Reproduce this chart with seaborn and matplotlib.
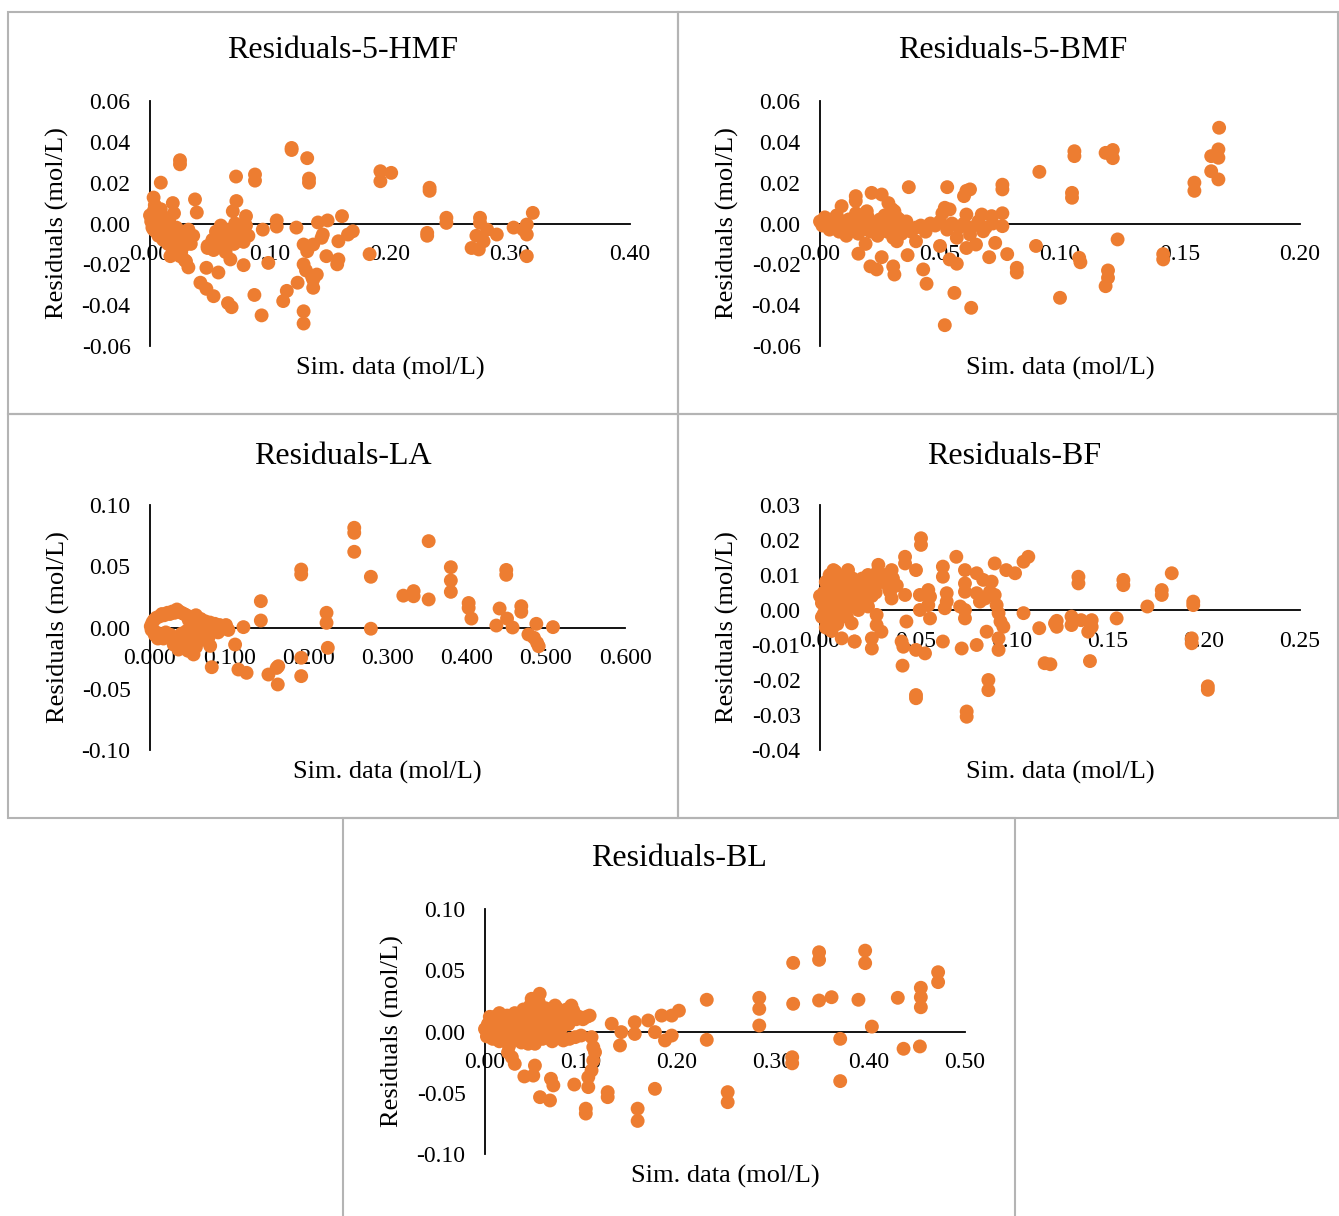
import numpy as np
import pandas as pd
import matplotlib
matplotlib.use("Agg")
import matplotlib.pyplot as plt
import matplotlib.patches as mpatches
from matplotlib.ticker import FormatStrFormatter
import seaborn as sns

# ---------------- data ----------------
hmf_x = [0.000, 0.001, 0.002, 0.003, 0.004, 0.005, 0.006, 0.007, 0.008, 0.010, 0.011, 0.012, 0.013, 0.015,
         0.016, 0.018, 0.019, 0.020, 0.022, 0.023, 0.025, 0.027, 0.028, 0.030, 0.032, 0.034, 0.036, 0.029,
         0.026, 0.017, 0.003, 0.009,
         0.048, 0.052, 0.055, 0.057, 0.060, 0.062, 0.064, 0.066, 0.068, 0.070, 0.072, 0.074, 0.076, 0.078,
         0.080, 0.082, 0.059, 0.071, 0.063, 0.053,
         0.118, 0.118, 0.131, 0.1325, 0.1325, 0.025, 0.025, 0.009, 0.0717, 0.0875, 0.0875, 0.192, 0.192, 0.201,
         0.0375, 0.019, 0.003, 0.039, 0.072, 0.069, 0.080, 0.160, 0.1056, 0.140, 0.148, 0.169, 0.165, 0.157,
         0.122, 0.094, 0.1056, 0.030, 0.032, 0.047, 0.057, 0.042, 0.047, 0.053, 0.065, 0.068, 0.087, 0.093,
         0.078, 0.067, 0.0986, 0.048, 0.114, 0.111, 0.123, 0.128, 0.128, 0.136, 0.136, 0.139, 0.128, 0.131,
         0.136, 0.128, 0.130, 0.135, 0.147, 0.156, 0.157, 0.144, 0.143, 0.183,
         0.233, 0.233, 0.247, 0.247, 0.231, 0.231, 0.275, 0.275, 0.281, 0.289, 0.272, 0.278, 0.268, 0.274,
         0.303, 0.314, 0.314, 0.311, 0.319, 0.314]
hmf_y = [0.004, 0.001, -0.002, 0.006, 0.009, -0.004, 0.002, -0.006, 0.004, -0.001, -0.008, 0.003, -0.004, -0.010,
         0.001, -0.006, -0.013, 0.005, -0.002, -0.009, -0.016, -0.004, -0.011, -0.007, -0.003, -0.010, -0.006, -0.018,
         -0.014, -0.016, -0.003, 0.007,
         -0.011, -0.008, -0.004, -0.009, -0.006, -0.012, -0.003, -0.008, -0.005, -0.010, -0.002, -0.007, -0.004, -0.009,
         -0.001, -0.006, -0.001, 0.000, -0.014, -0.013,
         0.037, 0.036, 0.032, 0.022, 0.020, 0.031, 0.029, 0.020, 0.023, 0.024, 0.021, 0.0256, 0.0207, 0.0248,
         0.0118, 0.010, 0.0127, 0.0054, 0.011, 0.006, 0.0036, 0.0036, 0.0015, 0.0005, 0.0015, -0.0038, -0.0054, -0.0087,
         -0.002, -0.003, -0.0015, -0.0185, -0.0215, -0.0217, -0.024, -0.029, -0.032, -0.0356, -0.039, -0.041, -0.035, -0.045,
         -0.0204, -0.0176, -0.0193, -0.012, -0.033, -0.038, -0.029, -0.043, -0.049, -0.0315, -0.0275, -0.025, -0.0103, -0.0136,
         -0.0103, -0.020, -0.023, -0.026, -0.016, -0.020, -0.0176, -0.0054, -0.007, -0.015,
         0.0175, 0.016, 0.0028, 0.0003, -0.0046, -0.006, 0.0028, 0.0003, -0.003, -0.0054, -0.006, -0.0087, -0.012, -0.0127,
         -0.002, -0.0005, -0.0054, -0.003, 0.0052, -0.016]

bmf_x = [0.000, 0.001, 0.002, 0.003, 0.004, 0.005, 0.006, 0.007, 0.008, 0.009, 0.010, 0.011, 0.012, 0.013,
         0.014, 0.016, 0.017, 0.018, 0.020, 0.021, 0.022, 0.024, 0.025, 0.026, 0.027, 0.028, 0.029, 0.031,
         0.033, 0.034, 0.035, 0.036, 0.038, 0.040, 0.042, 0.044, 0.046, 0.048, 0.050, 0.053, 0.055, 0.058,
         0.060, 0.063, 0.066, 0.069, 0.072, 0.019, 0.015, 0.030, 0.032,
         0.1663, 0.166, 0.166, 0.163, 0.163, 0.166, 0.156, 0.156, 0.106, 0.106, 0.105, 0.105, 0.119, 0.122, 0.122,
         0.124, 0.108, 0.1085, 0.120, 0.120, 0.119, 0.100, 0.143, 0.143,
         0.0914, 0.090, 0.082, 0.082, 0.076, 0.076, 0.061, 0.0625, 0.060, 0.053, 0.037, 0.0215, 0.0257, 0.0149,
         0.0149, 0.009, 0.0285, 0.031, 0.0195, 0.052, 0.054, 0.051, 0.061, 0.0674, 0.0715, 0.076, 0.076,
         0.016, 0.021, 0.0236, 0.0257, 0.0305, 0.031, 0.0365, 0.043, 0.0444, 0.056, 0.063, 0.052, 0.057, 0.054,
         0.050, 0.0705, 0.078, 0.061, 0.065, 0.073, 0.068, 0.0625, 0.057, 0.0305, 0.032, 0.040]
bmf_y = [0.001, -0.001, 0.003, 0.000, -0.003, 0.002, -0.001, 0.004, -0.004, 0.001, -0.002, -0.006, 0.002, -0.003,
         0.000, -0.005, 0.001, -0.002, 0.003, -0.004, 0.000, -0.006, 0.002, -0.002, 0.004, -0.004, 0.001, -0.003,
         0.002, -0.005, -0.001, 0.001, -0.004, -0.002, -0.001, -0.004, 0.000, -0.001, 0.001, -0.003, 0.000, -0.002,
         0.000, -0.002, 0.001, -0.002, 0.000, -0.010, 0.005, 0.007, 0.003,
         0.0469, 0.0363, 0.0322, 0.033, 0.0256, 0.0216, 0.020, 0.016, 0.0354, 0.033, 0.015, 0.0126, 0.0346, 0.036, 0.032,
         -0.0078, -0.0168, -0.019, -0.023, -0.0266, -0.0307, -0.0364, -0.015, -0.0176,
         0.0253, -0.011, -0.0217, -0.024, 0.019, 0.0167, 0.016, 0.0167, 0.0134, 0.0178, 0.0178, 0.015, 0.0142, 0.0134,
         0.011, 0.0085, 0.010, 0.006, 0.006, 0.0077, 0.0069, 0.005, 0.0044, 0.0044, 0.0036, 0.005, -0.0013,
         -0.0148, -0.021, -0.0225, -0.0165, -0.021, -0.025, -0.0155, -0.0225, -0.0295, -0.034, -0.0413, -0.0498, -0.0197, -0.0176,
         -0.011, -0.0165, -0.015, -0.012, -0.0103, -0.0095, -0.0038, -0.0054, -0.007, -0.007, -0.0087, -0.0087]

la_x = [0.003, 0.008, 0.015, 0.022, 0.028, 0.034, 0.040, 0.046, 0.052, 0.058, 0.064, 0.070, 0.076, 0.082,
        0.088, 0.094, 0.002, 0.006, 0.010, 0.015, 0.020, 0.026, 0.032, 0.038, 0.044, 0.048, 0.052, 0.056,
        0.060, 0.064, 0.068, 0.072, 0.080, 0.086, 0.040, 0.046, 0.055, 0.050, 0.062, 0.030, 0.036, 0.042,
        0.001, 0.005, 0.012, 0.018, 0.025, 0.031, 0.037, 0.043, 0.049, 0.055, 0.061, 0.067, 0.073, 0.079,
        0.085, 0.091, 0.097, 0.008, 0.012, 0.017, 0.044, 0.050, 0.058, 0.066, 0.074, 0.034, 0.028, 0.053,
        0.258, 0.258, 0.258, 0.279, 0.279, 0.191, 0.191, 0.140, 0.140, 0.223, 0.223, 0.2246, 0.191, 0.191,
        0.1496, 0.160, 0.162, 0.1614, 0.1117, 0.122, 0.078, 0.076, 0.1075, 0.118, 0.096, 0.099,
        0.352, 0.380, 0.380, 0.380, 0.320, 0.333, 0.333, 0.352, 0.4025, 0.4025, 0.406, 0.450, 0.450, 0.4416,
        0.451, 0.4375, 0.458, 0.469, 0.469, 0.488, 0.509, 0.478, 0.485, 0.489, 0.491]
la_y = [0.004, 0.008, 0.011, 0.012, 0.013, 0.0147, 0.012, 0.010, 0.008, 0.010, 0.007, 0.005, 0.004, 0.003,
        0.002, 0.000, -0.002, -0.006, -0.009, -0.006, -0.004, -0.006, -0.009, -0.012, -0.016, -0.019, -0.013, -0.009,
        -0.011, -0.006, -0.003, -0.006, -0.003, -0.004, -0.005, -0.003, -0.022, -0.002, -0.001, -0.014, -0.018, -0.008,
        0.001, 0.006, 0.009, 0.010, 0.011, 0.012, 0.013, 0.011, 0.006, 0.004, 0.006, 0.003, 0.001, 0.000,
        -0.001, 0.001, -0.001, -0.004, -0.008, -0.009, -0.011, -0.008, -0.016, -0.010, -0.008, -0.011, -0.010, -0.018,
        0.0814, 0.0773, 0.0618, 0.0414, -0.001, 0.0473, 0.0433, 0.0215, 0.0057, 0.012, 0.0038, -0.0166, -0.0247, -0.0397,
        -0.0384, -0.033, -0.0316, -0.0465, -0.0343, -0.037, -0.0324, -0.015, -0.0139, 0.0003, 0.002, -0.002,
        0.0705, 0.0492, 0.0384, 0.0291, 0.026, 0.0297, 0.0255, 0.0229, 0.020, 0.016, 0.0073, 0.047, 0.043, 0.0155,
        0.0073, 0.0016, 0.000, 0.0174, 0.0128, 0.003, 0.0003, -0.0057, -0.0084, -0.0125, -0.0153]

bf_x = [0.001, 0.002, 0.002, 0.003, 0.003, 0.004, 0.004, 0.005, 0.005, 0.006, 0.006, 0.007, 0.007, 0.008,
        0.008, 0.009, 0.009, 0.010, 0.010, 0.011, 0.011, 0.012, 0.012, 0.013, 0.013, 0.014, 0.014, 0.015,
        0.015, 0.016, 0.017, 0.017, 0.018, 0.019, 0.020, 0.020, 0.021, 0.022, 0.022, 0.023, 0.024, 0.025,
        0.025, 0.026, 0.027, 0.028, 0.029, 0.030, 0.032, 0.034, 0.036, 0.038, 0.040, 0.000, 0.001, 0.003,
        0.006, 0.0113, 0.0165, 0.018, 0.007, 0.0146,
        0.1832, 0.178, 0.178, 0.1705, 0.1944, 0.1944, 0.1936, 0.1936, 0.202, 0.202, 0.158, 0.158, 0.1346, 0.1346,
        0.1545, 0.1415, 0.1415, 0.1397, 0.136, 0.131, 0.131, 0.1233, 0.1233, 0.1406, 0.120,
        0.0526, 0.0526, 0.071, 0.091, 0.097, 0.1016, 0.106, 0.1085, 0.0443, 0.0443, 0.0304, 0.0373, 0.050,
        0.064, 0.064, 0.0755, 0.0816, 0.085, 0.0894, 0.0755, 0.0755, 0.066, 0.066, 0.065, 0.0564, 0.0573,
        0.0564, 0.052, 0.0573, 0.052, 0.0755, 0.0755, 0.073, 0.0816, 0.0833, 0.086, 0.0885, 0.091, 0.092,
        0.093, 0.094, 0.0955, 0.106, 0.1142, 0.1224, 0.117, 0.0868, 0.093, 0.093, 0.0816, 0.0738, 0.0877,
        0.0877, 0.0764, 0.0764, 0.050, 0.050, 0.043, 0.0434, 0.0425, 0.050, 0.0547, 0.045, 0.064, 0.0295,
        0.0295, 0.027, 0.027, 0.032, 0.018, 0.0365, 0.0443, 0.0373]
bf_y = [0.002, 0.005, -0.001, 0.008, 0.001, 0.004, -0.003, 0.010, 0.006, 0.002, -0.002, 0.008, 0.004, 0.011,
        0.000, 0.006, -0.004, 0.009, 0.003, 0.005, -0.001, 0.007, 0.001, 0.010, 0.004, 0.006, -0.002, 0.008,
        0.002, 0.004, 0.009, 0.001, 0.006, 0.003, 0.008, 0.000, 0.005, 0.009, 0.002, 0.006, 0.004, 0.010,
        0.001, 0.007, 0.004, 0.009, 0.005, 0.011, 0.008, 0.010, 0.006, 0.009, 0.007, 0.004, -0.002, -0.005,
        -0.006, -0.0081, -0.0038, -0.009, 0.0114, 0.0114,
        0.0105, 0.0057, 0.0043, 0.001, 0.0024, 0.0014, -0.0081, -0.0095, -0.0218, -0.0228, 0.0086, 0.0071, 0.0095, 0.0076,
        -0.0024, -0.0029, -0.0048, -0.0062, -0.0029, -0.0019, -0.0043, -0.0031, -0.0048, -0.0146, -0.0155,
        0.0205, 0.0186, 0.0152, 0.0133, 0.0114, 0.0105, 0.0138, 0.0152, 0.0152, 0.0133, 0.0129, 0.0114, 0.0114,
        0.0124, 0.0095, 0.0114, 0.0105, 0.0086, 0.0081, 0.0076, 0.0052, 0.0048, 0.0024, 0.0005, 0.0057, 0.0038,
        0.0014, 0.000, -0.0024, 0.0043, 0.000, -0.0024, 0.001, 0.0048, 0.0024, 0.0033, 0.0052, 0.0043, 0.0014,
        -0.0009, -0.0033, -0.0048, -0.0009, -0.0052, -0.0038, -0.0152, -0.0062, -0.0081, -0.0114, -0.010, -0.011, -0.020,
        -0.0229, -0.029, -0.0305, -0.0243, -0.0252, -0.0159, -0.0105, -0.009, -0.0114, -0.0124, -0.0033, -0.009, -0.0014,
        -0.0043, -0.0081, -0.011, -0.0062, -0.009, 0.0052, 0.0043, 0.0033]

bl_x = [0.000, 0.002, 0.003, 0.005, 0.006, 0.008, 0.009, 0.010, 0.012, 0.013, 0.015, 0.016, 0.017, 0.019,
        0.020, 0.022, 0.023, 0.025, 0.026, 0.028, 0.029, 0.031, 0.032, 0.034, 0.035, 0.037, 0.038, 0.040,
        0.041, 0.043, 0.044, 0.046, 0.047, 0.049, 0.050, 0.052, 0.053, 0.055, 0.056, 0.058, 0.059, 0.061,
        0.063, 0.064, 0.066, 0.068, 0.070, 0.071, 0.073, 0.075, 0.077, 0.079, 0.081, 0.083, 0.085, 0.087,
        0.089, 0.092, 0.095, 0.098, 0.102, 0.106, 0.060, 0.045, 0.025, 0.070, 0.088, 0.038, 0.015, 0.005,
        0.396, 0.396, 0.348, 0.348, 0.321, 0.472, 0.472, 0.454, 0.454, 0.454, 0.430, 0.389, 0.361, 0.348,
        0.321, 0.2857, 0.2857, 0.2857, 0.403, 0.370, 0.436, 0.453, 0.320, 0.320, 0.370, 0.2528, 0.2528,
        0.231, 0.231, 0.202, 0.1945, 0.184, 0.170, 0.156, 0.1945, 0.1875, 0.177, 0.156, 0.142, 0.132, 0.1406,
        0.177, 0.159, 0.159, 0.1278, 0.1278, 0.105, 0.105, 0.1076, 0.1076, 0.111, 0.1128, 0.1146, 0.1128,
        0.093, 0.0687, 0.0712, 0.0677, 0.0573, 0.052, 0.0503, 0.041, 0.031, 0.100, 0.111, 0.094, 0.109,
        0.0816, 0.057, 0.0486, 0.090, 0.073, 0.076, 0.094, 0.083, 0.052, 0.024, 0.028]
bl_y = [0.002, -0.004, 0.006, 0.000, 0.009, -0.006, 0.003, 0.012, -0.002, 0.007, -0.008, 0.004, 0.011, 0.000,
        0.008, -0.005, 0.013, 0.003, 0.010, -0.003, 0.006, 0.015, 0.001, 0.009, -0.007, 0.012, 0.004, 0.018,
        -0.002, 0.008, 0.014, 0.002, 0.021, 0.010, -0.005, 0.016, 0.005, 0.012, 0.024, 0.000, 0.008, 0.014,
        0.019, 0.003, 0.010, 0.017, 0.006, -0.004, 0.013, 0.019, 0.009, 0.002, 0.015, 0.011, 0.018, 0.006,
        0.014, 0.017, 0.010, 0.012, 0.010, 0.012, -0.006, -0.010, -0.012, -0.008, -0.006, -0.009, 0.015, 0.012,
        0.066, 0.0558, 0.0647, 0.0585, 0.056, 0.0484, 0.0403, 0.0357, 0.028, 0.0198, 0.0275, 0.0259, 0.028, 0.0253,
        0.0226, 0.0275, 0.0185, 0.0049, 0.004, -0.006, -0.0141, -0.0122, -0.021, -0.026, -0.0405, -0.0495, -0.0577,
        0.0259, -0.0068, 0.017, 0.013, 0.013, 0.009, 0.0076, -0.0033, -0.0073, -0.0005, -0.002, -0.0005, 0.0063, -0.0114,
        -0.0468, -0.063, -0.073, -0.0495, -0.0536, -0.063, -0.067, -0.0454, -0.0373, -0.0318, -0.0237, -0.0169, -0.0128,
        -0.0433, -0.0386, -0.044, -0.0563, -0.0536, -0.0278, -0.036, -0.0367, -0.0264, -0.0033, -0.0046, -0.0046, 0.013,
        -0.0073, 0.0308, 0.0267, 0.0212, 0.0212, 0.017, 0.013, 0.009, -0.010, -0.017, -0.021]

titles = ["Residuals-5-HMF", "Residuals-5-BMF", "Residuals-LA", "Residuals-BF", "Residuals-BL"]
xlabel_text = "Sim. data (mol/L)"
ylabel_text = "Residuals (mol/L)"

# ---------------- style ----------------
sns.set_style("white")
plt.rcParams['font.family'] = ['Liberation Serif', 'DejaVu Serif']
plt.rcParams['axes.unicode_minus'] = False
plt.rcParams['text.color'] = 'black'
plt.rcParams['axes.labelcolor'] = 'black'
plt.rcParams['xtick.color'] = 'black'
plt.rcParams['ytick.color'] = 'black'

W, H = 1339, 1216
fig = plt.figure(figsize=(W / 100, H / 100), dpi=100)
fig.patch.set_facecolor("white")
ORANGE = "#ED7D31"

def fx(px):
    return px / W

def fy(py):
    return 1 - py / H

# panel borders (pixel boxes)
boxes = [(8, 12, 678, 414), (678, 12, 1338, 414), (8, 414, 678, 818),
         (678, 414, 1338, 818), (343, 818, 1015, 1222)]
for (x0, y0, x1, y1) in boxes:
    fig.add_artist(mpatches.Rectangle((fx(x0), fy(y1)), fx(x1) - fx(x0), fy(y0) - fy(y1),
                                      transform=fig.transFigure, fill=False,
                                      edgecolor="#b4b4b4", linewidth=1.5))

panels = [
    dict(x=hmf_x, y=hmf_y, box=(150, 101, 630, 346), xlim=(0, 0.40), xt=np.arange(0, 0.41, 0.1), xf="%.2f",
         ylim=(-0.06, 0.06), yt=np.arange(-0.06, 0.061, 0.02), yf="%.2f", title=titles[0], tpos=(343, 51)),
    dict(x=bmf_x, y=bmf_y, box=(820, 101, 1300, 346), xlim=(0, 0.20), xt=np.arange(0, 0.201, 0.05), xf="%.2f",
         ylim=(-0.06, 0.06), yt=np.arange(-0.06, 0.061, 0.02), yf="%.2f", title=titles[1], tpos=(1013, 51)),
    dict(x=la_x, y=la_y, box=(150, 505, 625, 750), xlim=(0, 0.60), xt=np.arange(0, 0.61, 0.1), xf="%.3f",
         ylim=(-0.10, 0.10), yt=np.arange(-0.10, 0.101, 0.05), yf="%.2f", title=titles[2], tpos=(343, 456)),
    dict(x=bf_x, y=bf_y, box=(820, 505, 1300, 750), xlim=(0, 0.25), xt=np.arange(0, 0.251, 0.05), xf="%.2f",
         ylim=(-0.04, 0.03), yt=np.arange(-0.04, 0.031, 0.01), yf="%.2f", title=titles[3], tpos=(1014, 456)),
    dict(x=bl_x, y=bl_y, box=(485, 909, 965, 1154), xlim=(0, 0.50), xt=np.arange(0, 0.51, 0.1), xf="%.2f",
         ylim=(-0.10, 0.10), yt=np.arange(-0.10, 0.101, 0.05), yf="%.2f", title=titles[4], tpos=(679, 859)),
]

for p in panels:
    l, t, r, b = p["box"]
    ax = fig.add_axes([fx(l), fy(b), fx(r) - fx(l), fy(t) - fy(b)])
    ax.set_facecolor("none")
    df = pd.DataFrame({"sim": p["x"], "res": p["y"]})
    sns.scatterplot(data=df, x="sim", y="res", ax=ax, color=ORANGE, s=100,
                    edgecolor="none", linewidth=0, clip_on=False, zorder=3)
    ax.set_xlim(*p["xlim"])
    ax.set_ylim(*p["ylim"])
    ax.set_xticks(p["xt"])
    ax.set_yticks(p["yt"])
    ax.xaxis.set_major_formatter(FormatStrFormatter(p["xf"]))
    ax.yaxis.set_major_formatter(FormatStrFormatter(p["yf"]))
    ax.set_xlabel("")
    ax.set_ylabel("")
    for s in ["top", "right"]:
        ax.spines[s].set_visible(False)
    ax.spines["bottom"].set_position(("data", 0))
    for s in ["bottom", "left"]:
        ax.spines[s].set_color("black")
        ax.spines[s].set_linewidth(1.3)
        ax.spines[s].set_zorder(2)
    ax.tick_params(axis="x", length=0, pad=15, labelsize=17, colors="black")
    ax.tick_params(axis="y", length=0, pad=14, labelsize=17, colors="black")
    ax.grid(False)
    # axis titles
    ax.text(0.5, -0.09, xlabel_text, transform=ax.transAxes, ha="center", va="center", fontsize=19)
    ax.text(-0.192, 0.5, ylabel_text, transform=ax.transAxes, ha="center", va="center",
            rotation=90, fontsize=19)
    fig.text(fx(p["tpos"][0]), fy(p["tpos"][1]), p["title"], ha="center", va="center", fontsize=23)

fig.savefig("out.png", dpi=100, facecolor="white")
